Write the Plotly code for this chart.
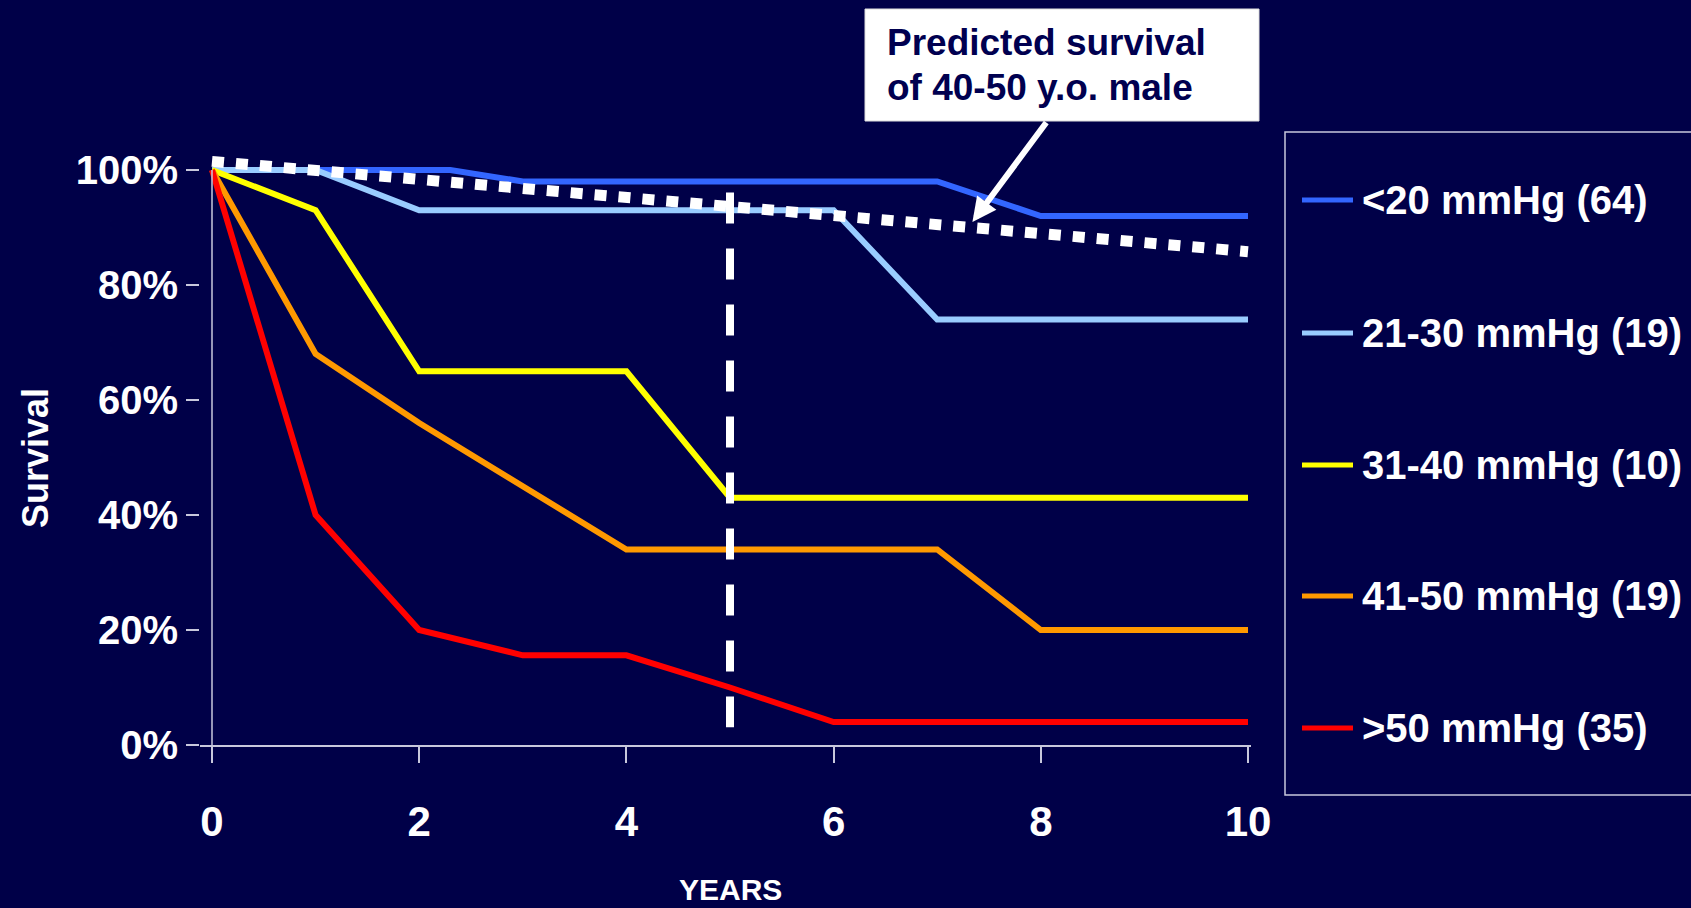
import plotly.graph_objects as go

# ---- data -------------------------------------------------------------
years = [0, 1, 2, 3, 4, 5, 6, 7, 8, 9, 10]
years_lt20 = [0, 1, 2, 2.3, 3, 4, 5, 6, 7, 8, 9, 10]

surv_lt20 = [1.00, 1.00, 1.00, 1.00, 0.98, 0.98, 0.98, 0.98, 0.98, 0.92, 0.92, 0.92]
surv_21_30 = [1.00, 1.00, 0.93, 0.93, 0.93, 0.93, 0.93, 0.74, 0.74, 0.74, 0.74]
surv_31_40 = [1.00, 0.93, 0.65, 0.65, 0.65, 0.43, 0.43, 0.43, 0.43, 0.43, 0.43]
surv_41_50 = [1.00, 0.68, 0.56, 0.45, 0.34, 0.34, 0.34, 0.34, 0.20, 0.20, 0.20]
surv_gt50 = [1.00, 0.40, 0.20, 0.156, 0.156, 0.10, 0.04, 0.04, 0.04, 0.04, 0.04]

group_labels = ["<20 mmHg (64)", "21-30 mmHg (19)", "31-40 mmHg (10)",
                "41-50 mmHg (19)", ">50 mmHg (35)"]
group_colors = ["#3366FF", "#99CCFF", "#FFFF00", "#FF9900", "#FF0000"]

# expected survival for a 40-50 year old male (straight reference line)
predicted_years = [0, 10]
predicted_surv = [1.015, 0.858]

# 5-year landmark
landmark_year = 5
landmark_span = [0.961, 0.031]

x_ticks = [0, 2, 4, 6, 8, 10]
y_ticks = [0, 0.2, 0.4, 0.6, 0.8, 1.0]

# ---- styling ----------------------------------------------------------
BG = "#000048"
AXIS = "#c8c8dc"
FONT = "Liberation Sans, Arial, sans-serif"
W, H = 1691, 908
PLOT_L, PLOT_R, PLOT_T, PLOT_B = 200, 1251, 147, 745


def px(x):
    return (x - PLOT_L) / (PLOT_R - PLOT_L)


def py(y):
    return (PLOT_B - y) / (PLOT_B - PLOT_T)


fig = go.Figure()

series = [
    (years_lt20, surv_lt20),
    (years, surv_21_30),
    (years, surv_31_40),
    (years, surv_41_50),
    (years, surv_gt50),
]
for (xs, ys), name, color in zip(series, group_labels, group_colors):
    fig.add_trace(go.Scatter(
        x=xs, y=ys, mode="lines", name=name,
        line=dict(color=color, width=6),
        showlegend=False, hoverinfo="skip",
    ))

fig.add_trace(go.Scatter(
    x=predicted_years, y=predicted_surv, mode="lines",
    line=dict(color="white", width=11, dash="12px,12px"),
    showlegend=False, hoverinfo="skip",
))

fig.add_trace(go.Scatter(
    x=[landmark_year, landmark_year], y=landmark_span, mode="lines",
    line=dict(color="white", width=8, dash="31px,25px"),
    showlegend=False, hoverinfo="skip",
))

shapes = []
annotations = []

# y axis line from 0% to 100%
shapes.append(dict(type="line", xref="x", yref="y", x0=0, x1=0, y0=0, y1=1,
                   line=dict(color=AXIS, width=1.5), layer="above"))

# legend panel
shapes.append(dict(type="rect", xref="paper", yref="paper",
                   x0=px(1285), x1=px(1705), y0=py(795), y1=py(132),
                   line=dict(color=AXIS, width=1.5), fillcolor="rgba(0,0,0,0)"))
legend_rows = [200, 333, 465, 596, 728]
for label, color, yrow in zip(group_labels, group_colors, legend_rows):
    shapes.append(dict(type="line", xref="paper", yref="paper",
                       x0=px(1302), x1=px(1353), y0=py(yrow), y1=py(yrow),
                       line=dict(color=color, width=5)))
    annotations.append(dict(xref="paper", yref="paper", x=px(1360), y=py(yrow),
                            xanchor="left", yanchor="middle", showarrow=False,
                            text=label,
                            font=dict(family=FONT, size=40, color="white", weight="bold")))

# callout box
shapes.append(dict(type="rect", xref="paper", yref="paper",
                   x0=px(865), x1=px(1259), y0=py(121), y1=py(9),
                   line=dict(color="#dddddd", width=1), fillcolor="white"))
for txt, yc in [("Predicted survival", 42), ("of 40-50 y.o. male", 88)]:
    annotations.append(dict(xref="paper", yref="paper", x=px(885), y=py(yc),
                            xanchor="left", yanchor="middle", showarrow=False,
                            text=txt,
                            font=dict(family=FONT, size=37, color="#000050", weight="bold")))
annotations.append(dict(xref="x", yref="y", x=7.34, y=0.9096, text="",
                        showarrow=True, arrowhead=2, arrowsize=0.8, arrowwidth=6,
                        arrowcolor="white", ax=75, ay=-101, standoff=0))

# axis titles
annotations.append(dict(xref="paper", yref="paper", x=px(35), y=py(458),
                        xanchor="center", yanchor="middle", showarrow=False,
                        text="Survival", textangle=-90,
                        font=dict(family=FONT, size=36, color="white", weight="bold")))
annotations.append(dict(xref="x", yref="paper", x=5, y=py(889),
                        xanchor="center", yanchor="middle", showarrow=False,
                        text="YEARS",
                        font=dict(family=FONT, size=30, color="white", weight="bold")))

fig.update_layout(
    width=W, height=H,
    margin=dict(l=PLOT_L, r=W - PLOT_R, t=PLOT_T, b=H - PLOT_B, pad=0),
    paper_bgcolor=BG, plot_bgcolor=BG,
    shapes=shapes, annotations=annotations,
    showlegend=False,
)

k = (1248 - 212) / 10.0
fig.update_xaxes(
    range=[-(212 - PLOT_L) / k, 10 + (PLOT_R - 1248) / k],
    tickvals=x_ticks, ticktext=[str(v) for v in x_ticks],
    ticks="outside", ticklen=16, tickwidth=1.5, tickcolor=AXIS,
    showline=True, linecolor=AXIS, linewidth=1.5,
    showgrid=False, zeroline=False,
    tickfont=dict(family=FONT, size=42, color="white", weight="bold"),
    ticklabelstandoff=23,
)
fig.update_yaxes(
    range=[0, 1.04],
    tickvals=y_ticks, tickformat=".0%",
    ticks="outside", ticklen=13, tickwidth=1.5, tickcolor=AXIS,
    showline=False, showgrid=False, zeroline=False,
    tickfont=dict(family=FONT, size=40, color="white", weight="bold"),
    ticklabelstandoff=0,
)

fig.write_html("out.html")
